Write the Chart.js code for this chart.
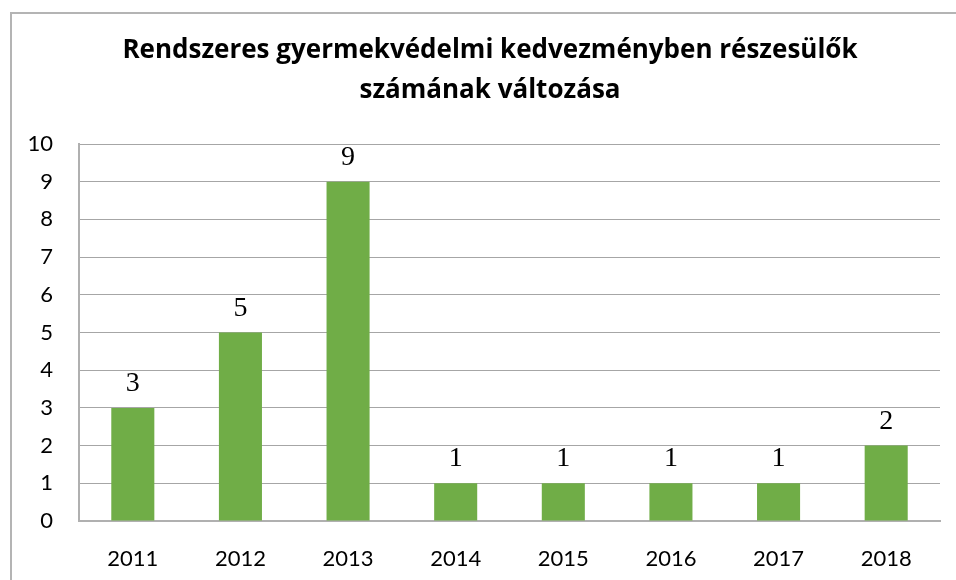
<!DOCTYPE html>
<html>
<head>
<meta charset="utf-8">
<script src="https://cdn.jsdelivr.net/npm/chart.js@4"></script>
<style>
  html, body { margin: 0; padding: 0; background: #fff; }
  #wrap { position: relative; width: 956px; height: 580px; overflow: hidden; }
  #frame { position: absolute; left: 10px; top: 12px; width: 1000px; height: 700px; border: 2px solid #b4b4b4; box-sizing: border-box; }
  canvas { position: absolute; left: 0; top: 0; }
</style>
</head>
<body>
<div id="wrap">
  <div id="frame"></div>
  <canvas id="c" width="956" height="580"></canvas>
</div>
<script>
const titleLines = ['Rendszeres gyermekvédelmi kedvezményben részesülők', 'számának változása'];
const years = ['2011', '2012', '2013', '2014', '2015', '2016', '2017', '2018'];
const recipients = [3, 5, 9, 1, 1, 1, 1, 2];
const yTicks = [0, 1, 2, 3, 4, 5, 6, 7, 8, 9, 10];

const valueLabels = {
  id: 'valueLabels',
  afterDatasetsDraw(chart) {
    const ctx = chart.ctx;
    const meta = chart.getDatasetMeta(0);
    ctx.save();
    ctx.font = '28px "Liberation Serif", "Times New Roman", serif';
    ctx.fillStyle = '#000';
    ctx.textAlign = 'center';
    ctx.textBaseline = 'alphabetic';
    meta.data.forEach((bar, i) => {
      ctx.fillText(String(recipients[i]), bar.x, bar.y - 17);
    });
    ctx.restore();
  }
};

new Chart(document.getElementById('c'), {
  type: 'bar',
  data: {
    labels: years,
    datasets: [{
      data: recipients,
      backgroundColor: '#70AD47',
      borderWidth: 0,
      categoryPercentage: 1,
      barPercentage: 0.4,
      yAxisID: 'y'
    }]
  },
  options: {
    responsive: false,
    animation: false,
    devicePixelRatio: 1,
    layout: { padding: { left: 24, right: 0, top: 0, bottom: 0 } },
    plugins: {
      legend: { display: false },
      tooltip: { enabled: false },
      title: {
        display: true,
        text: titleLines,
        color: '#000',
        font: { family: '"Open Sans"', size: 26, weight: 'bold', lineHeight: '40px' },
        padding: { top: 31, bottom: 33 }
      }
    },
    scales: {
      x: {
        grid: { display: false, drawTicks: false },
        border: { display: true, color: '#b0b0b0', width: 2 },
        ticks: { color: '#000', font: { family: 'Lato', size: 22 }, padding: 25, maxRotation: 0 },
        afterFit(scale) { scale.height = 59; }
      },
      y: {
        position: 'left',
        min: 0,
        max: 10,
        afterBuildTicks(scale) { scale.ticks = yTicks.map(v => ({ value: v })); },
        grid: { color: '#a6a6a6', lineWidth: 1, drawTicks: false },
        border: { display: true, color: '#b0b0b0', width: 2 },
        ticks: { color: '#000', font: { family: 'Lato', size: 22 }, padding: 26 },
        afterFit(scale) { scale.width = 55; }
      },
      yRightSpace: {
        position: 'right',
        min: 0,
        max: 10,
        grid: { display: false, drawTicks: false },
        border: { display: false },
        ticks: { display: false },
        afterFit(scale) { scale.width = 16; }
      }
    }
  },
  plugins: [valueLabels]
});
</script>
</body>
</html>
